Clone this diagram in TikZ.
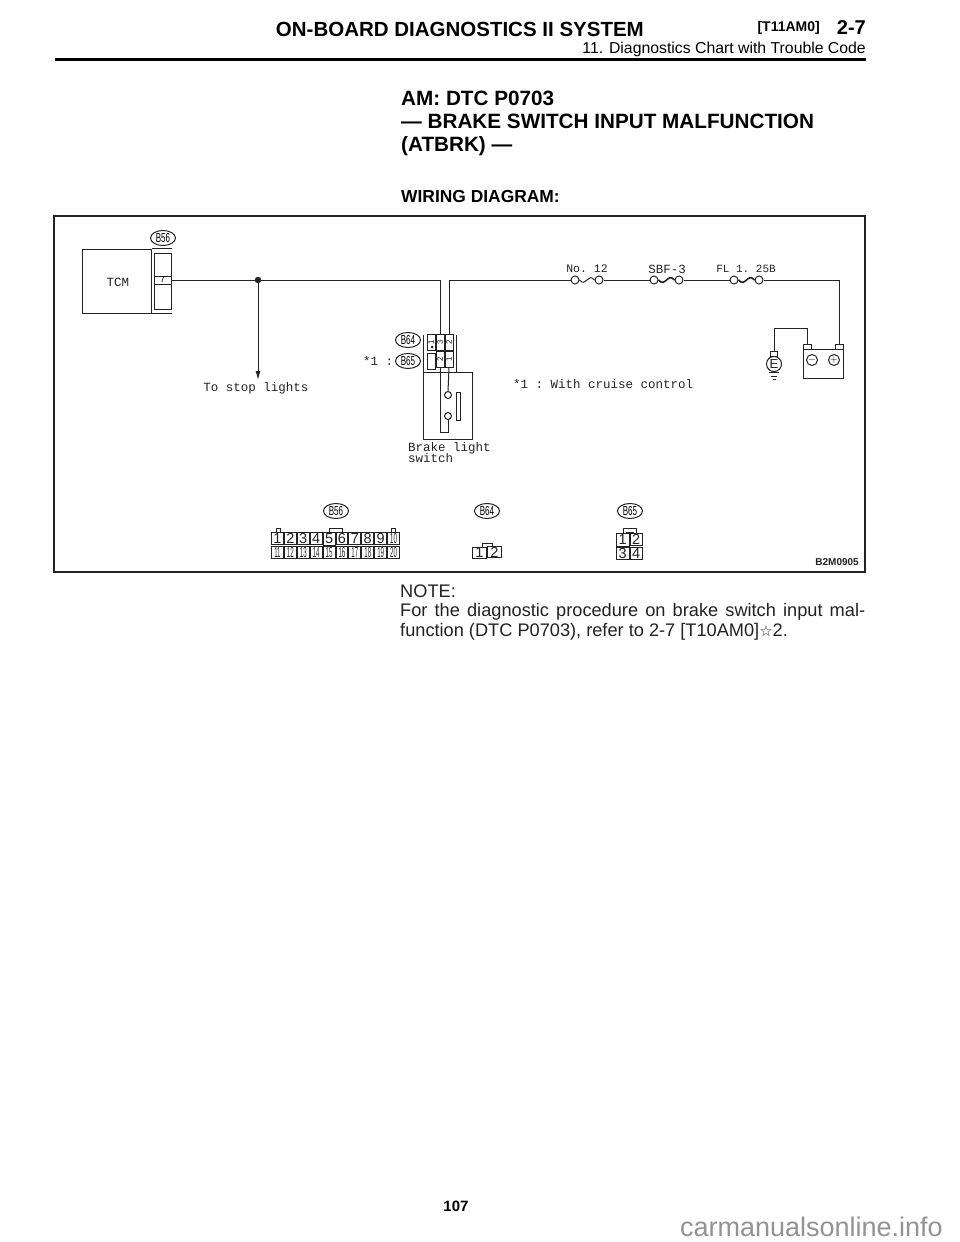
\documentclass[tikz,border=0pt]{standalone}
\usepackage{fontspec}
\setmainfont{Liberation Sans}
\setmonofont{Liberation Mono}
\newfontfamily\symfont{DejaVu Sans}
\usetikzlibrary{arrows.meta}
\usetikzlibrary{matrix}
\usetikzlibrary{shapes.geometric}
\definecolor{ink}{RGB}{35,35,35}
\newcommand{\fsz}[1]{\fontsize{#1}{#1}\selectfont}
\newcommand{\cname}[1]{\scalebox{.62}[1]{#1}}
\newcommand{\pinw}[1]{\scalebox{.42}[1]{#1}}
\newcommand{\pinr}[1]{\rotatebox{90}{#1}}
\tikzset{
	wire/.style={ink,line width=1pt},
	box/.style={draw=ink,line width=1pt,rectangle,inner sep=0pt},
	contact/.style={draw=ink,fill=white,line width=1pt,circle,inner sep=0pt,minimum size=8pt},
	conn/.style={draw=ink,line width=1pt,ellipse,inner sep=0pt,minimum width=25pt,minimum height=15pt,font=\fsz{13}},
	mono/.style={font=\ttfamily\fsz{12.5},text=ink,inner sep=0pt},
	cell/.style={box,font=\fsz{14.5},text=ink},
	title/.style={anchor=west,inner sep=0pt,font=\bfseries\fsz{20.7}},
	body/.style={anchor=west,inner sep=0pt,font=\fsz{18.2},text=ink},
}

\begin{document}
\begin{tikzpicture}[x=1pt,y=-1pt]
	\useasboundingbox[fill=white] (0,0) rectangle (960,1242);

	% page header
	\node [anchor=east,inner sep=0pt,font=\bfseries\fsz{20.5}] (head) at (644,29) {ON-BOARD DIAGNOSTICS II SYSTEM};
	\node [anchor=east,inner sep=0pt,font=\bfseries\fsz{14}] (code) at (820,28) {[T11AM0]};
	\node [anchor=east,inner sep=0pt,font=\bfseries\fsz{20}] (page) at (866,28) {2-7};
	\node [anchor=east,inner sep=0pt,font=\fsz{15.8}] (sub) at (866,49) {11. Diagnostics Chart with Trouble Code};
	\draw [line width=3pt] (55,59)--(866,59);

	\node [title] (am) at (401,98) {AM: DTC P0703};
	\node [title] (brake) at (401,121) {--- BRAKE SWITCH INPUT MALFUNCTION};
	\node [title] (atbrk) at (401,146) {(ATBRK) ---};
	\node [title,font=\bfseries\fsz{17.4}] (wd) at (401,197) {WIRING DIAGRAM:};

	\draw [ink,line width=1.2pt] (54,216) rectangle (865,572);

	% TCM
	\node [box,minimum width=68.5pt,minimum height=64pt] (tcm) at (116.75,281) {};
	\node [mono] at (118,282) {TCM};
	\draw [wire] (tcm.north east)--+(20,0);
	\draw [wire] (tcm.south east)--+(20,0);
	\node [box,minimum width=17pt,minimum height=56pt] (tcmpins) at (162.5,281) {};
	\node [box,minimum width=17pt,minimum height=8pt,font=\ttfamily\fsz{9}] (pin7) at (162.5,280) {7};
	\node [conn] (b56a) at (163,238) {\cname{B56}};

	\node [draw=ink,fill=ink,circle,inner sep=0pt,minimum size=6pt] (junc) at (258,280) {};
	\node [mono] (stop) at (256,388) {To stop lights};
	\coordinate [] (tip) at (258,380);
	\draw [wire] (pin7.east)--(junc);
	\draw [wire,-{Latex[length=9pt,width=5pt]}] (junc)--(tip);

	% B64 and B65 on the brake light switch
	\matrix [matrix of nodes,nodes in empty cells,inner sep=0pt,nodes={box,minimum width=8pt,minimum height=16pt,fill=white,font=\fsz{8},text=ink}] (block) at (440,352) {
		\pinr{1} & \pinr{3} & \pinr{2} \\
		 & \pinr{2} & \pinr{1} \\
	};
	\fill [ink] (432,347) circle[radius=1.5];
	\node [conn] (b64a) at (408,340) {\cname{B64}};
	\node [conn] (b65a) at (408,361) {\cname{B65}};
	\node [mono] (star) at (378,361) {*1 :};
	\draw [wire] (423,335)--(423,372);
	\draw [wire] (456,335)--(456,372);

	\node [box,minimum width=49pt,minimum height=67pt] (switch) at (447.5,405.5) {};
	\node [contact,minimum size=7pt] (swa) at (448,395) {};
	\node [contact,minimum size=7pt] (swb) at (448,416) {};
	\node [box,minimum width=4pt,minimum height=28pt] (swbar) at (458,406) {};
	\coordinate [] (swc) at (440,432);
	\draw [wire] (block-2-2.south)--(swc)-|(swb.south);
	\draw [wire] (block-2-3.south)--(swa.north);
	\node [mono,anchor=west] (bl) at (408,448) {Brake light};
	\node [mono,anchor=west] (sw) at (408,458) {switch};

	\draw [wire] (junc)-|(block-1-2.north);

	% fuses and battery
	\node [contact] (f1a) at (575,280) {};
	\node [contact] (f1b) at (599,280) {};
	\node [contact] (f2a) at (654,280) {};
	\node [contact] (f2b) at (679,280) {};
	\node [contact] (f3a) at (734,280) {};
	\node [contact] (f3b) at (759,280) {};
	\node [mono,font=\ttfamily\fsz{11.5}] (no12) at (587,269) {No. 12};
	\node [mono] (sbf) at (667,269) {SBF-3};
	\node [mono,font=\ttfamily\fsz{11}] (fl) at (746,269) {FL 1. 25B};
	\draw [wire] (block-1-3.north)|-(f1a.west);
	\draw [wire] (f1a.east) .. controls +(7,8) and +(-7,-8) .. (f1b.west);
	\draw [wire] (f1b.east)--(f2a.west);
	\draw [wire,line width=1.6pt] (f2a.east) .. controls +(7,8) and +(-7,-8) .. (f2b.west);
	\draw [wire] (f2b.east)--(f3a.west);
	\draw [wire,line width=1.6pt] (f3a.east) .. controls +(7,8) and +(-7,-8) .. (f3b.west);

	\node [box,minimum width=40pt,minimum height=29pt] (batt) at (823,363.5) {};
	\node [box,minimum width=8pt,minimum height=5pt] (battn) at (807,346.5) {};
	\node [box,minimum width=8pt,minimum height=5pt] (battp) at (839,346.5) {};
	\node [box,circle,minimum size=11pt] (minus) at (812,360) {\fsz{10}$-$};
	\node [box,circle,minimum size=11pt] (plus) at (834,360) {\fsz{10}$+$};
	\draw [wire] (f3b.east)-|(battp.north);

	\node [box,circle,minimum size=15pt,font=\fsz{13},text=ink] (earth) at (774,364) {E};
	\node [box,minimum width=7.5pt,minimum height=5pt] (stub) at (774,354) {};
	\coordinate [] (neg) at (774,328);
	\draw [wire] (battn.north)|-(neg)--(stub.north);
	\draw [wire] (769,372.5)--(779,372.5);
	\draw [wire] (771,376)--(777,376);
	\draw [wire] (772.5,379.5)--(775.5,379.5);

	\node [mono,anchor=west] (cruise) at (513,384) {*1 : With cruise control};

	% connector faces
	\node [conn] (b56b) at (336,511) {\cname{B56}};
	\matrix [matrix of nodes,inner sep=0pt,nodes={cell,minimum width=11.9pt,minimum height=12.5pt}] (face56) at (335.5,545.5) {
		1 & 2 & 3 & 4 & 5 & 6 & 7 & 8 & 9 & \pinw{10} \\
		\pinw{11} & \pinw{12} & \pinw{13} & \pinw{14} & \pinw{15} & \pinw{16} & \pinw{17} & \pinw{18} & \pinw{19} & \pinw{20} \\
	};
	\draw [wire] (329,533)--(329,528)--(342,528)--(342,533);
	\draw [wire] (276,533)--(276,528)--(280,528)--(280,533);
	\draw [wire] (391,533)--(391,528)--(395,528)--(395,533);

	\node [conn] (b64b) at (487,511) {\cname{B64}};
	\matrix [matrix of nodes,inner sep=0pt,nodes={cell,minimum width=14pt,minimum height=11pt}] (face64) at (487,552.5) {
		1 & 2 \\
	};
	\draw [wire] (482,547)--(482,543)--(492,543)--(492,547);

	\node [conn] (b65b) at (630,511) {\cname{B65}};
	\matrix [matrix of nodes,inner sep=0pt,nodes={cell,minimum width=12.5pt,minimum height=12.5pt}] (face65) at (629.5,546.5) {
		1 & 2 \\
		3 & 4 \\
	};
	\draw [wire] (623,534)--(623,528)--(636,528)--(636,534);
	\draw [wire] (626,534)--(626,532)--(633,532)--(633,534);

	\node [anchor=east,inner sep=0pt,font=\bfseries\fsz{10},text=ink] (fig) at (859,562) {B2M0905};

	% note under the figure
	\node [body] (note) at (400,591) {NOTE:};
	\node [body] (n1) at (400,612) {\hbox to 465pt{For the diagnostic procedure on brake switch input mal-}};
	\node [body] (n2) at (400,632) {function (DTC P0703), refer to 2-7 [T10AM0]{\symfont\fsz{15}☆}2.};

	\node [inner sep=0pt,font=\bfseries\fsz{15}] (pg) at (456,1206) {107};
	\node [anchor=east,inner sep=0pt,font=\fsz{27},text=gray!85] (mark) at (943,1227) {carmanualsonline.info};
\end{tikzpicture}
\end{document}
